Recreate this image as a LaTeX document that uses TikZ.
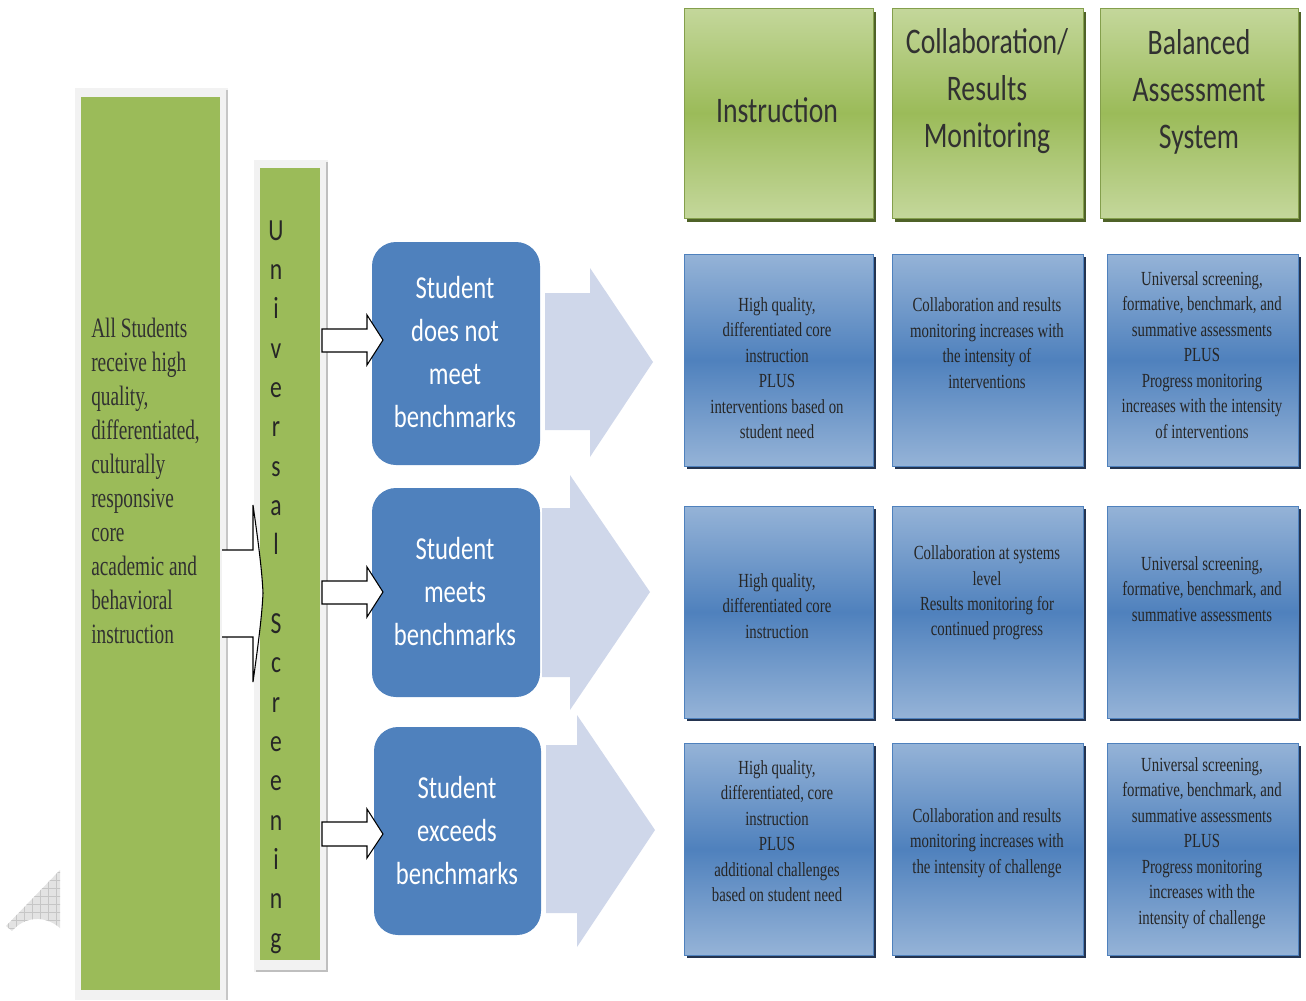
\documentclass[tikz,border=0pt]{standalone}
\usepackage{fontspec}
\usepackage{xcolor}
\usepackage{tikz}
\newfontfamily\calfont[FakeStretch=0.77]{Carlito}
\newfontfamily\sidefont[FakeStretch=0.69]{Liberation Serif}
\newfontfamily\cellfont[FakeStretch=0.74]{Liberation Serif}
\definecolor{leafgreen}{RGB}{155,187,89}
\definecolor{palegreen}{RGB}{196,215,155}
\definecolor{olivedark}{RGB}{79,98,40}
\definecolor{tierblue}{RGB}{79,129,189}
\definecolor{paleblue}{RGB}{149,179,215}
\definecolor{navydark}{RGB}{36,52,80}
\definecolor{haze}{RGB}{207,215,234}
\definecolor{framegray}{RGB}{242,242,242}
\definecolor{inkgray}{RGB}{38,38,38}
\pgfdeclarelayer{background}
\pgfsetlayers{background,main}

\begin{document}
\begin{tikzpicture}[x=0.75pt,y=0.75pt,yscale=-1,xscale=1,
	headbox/.style={draw=leafgreen!85!black,line width=0.6pt,top color=palegreen,bottom color=palegreen,middle color=leafgreen,minimum height=157.5pt,inner sep=0pt},
	cellbox/.style={draw=tierblue,line width=0.6pt,top color=paleblue,bottom color=paleblue,middle color=tierblue,minimum height=159pt,inner sep=0pt},
	tierbox/.style={fill=tierblue,rounded corners=18pt,inner sep=0pt},
	headtext/.style={align=center,inner sep=0pt,text=inkgray!95,font=\calfont\fontsize{27}{35.25}\selectfont},
	tiertext/.style={align=center,inner sep=0pt,text=white,font=\calfont\fontsize{24}{32.25}\selectfont},
	celltext/.style={align=center,inner sep=0pt,text=inkgray,font=\cellfont\fontsize{15}{19.1}\selectfont},
	hazearrow/.style={fill=haze,draw=none},
	whitearrow/.style={fill=white,draw=black,line width=0.8pt,line join=miter}]
	\useasboundingbox (0,0) rectangle (1306,1000);

	%Shape: grey corner mark
	\begin{scope}
	\clip (60,870) -- (6,926) -- (12,931) .. controls (25,916) and (45,915) .. (60,928) -- cycle ;
	\fill[gray!22] (0,860) rectangle (62,935) ;
	\draw[gray!45,line width=0.4pt] (0,860) grid[step=8] (62,935) ;
	\end{scope}

	%Shape: left frame and green column
	\fill[framegray] (75,88) rectangle (228,1000) ;
	\draw[gray!45,line width=1.2pt] (227,90) -- (227,1000) ;
	\node (allbox) [fill=leafgreen,inner sep=0pt,minimum width=104.25pt,minimum height=669.75pt] at (150.5,543.5) {};
	% Text Node
	\node (alltext) [anchor=west,align=left,inner sep=0pt,text=inkgray!95,font=\sidefont\fontsize{21}{25.5}\selectfont] at (91,481) {All Students\\receive high\\quality,\\differentiated,\\culturally\\responsive\\core\\academic and\\behavioral\\instruction};

	%Shape: screening frame and green column
	\fill[framegray] (254,160) rectangle (328,972) ;
	\draw[gray!50,line width=1.2pt] (327,162) -- (327,971) -- (256,971) ;
	\node (scrbox) [fill=leafgreen,inner sep=0pt,minimum width=45pt,minimum height=594pt] at (290,564) {};
	% Text Node
	\node (scrtext) [align=center,inner sep=0pt,text=inkgray,font=\calfont\fontsize{23}{29.5}\selectfont] at (276,587) {U\\n\\i\\v\\e\\r\\s\\a\\l\\\mbox{}\\S\\c\\r\\e\\e\\n\\i\\n\\g};

	%Shape: big white arrow into screening
	\draw[whitearrow] (222,550) -- (253,550) -- (253,505) .. controls (258,540) and (262,570) .. (263,593) .. controls (262,616) and (258,646) .. (253,682) -- (253,637) -- (222,637) ;

	%Shape: pale chevrons
	\fill[hazearrow] (545,293) -- (590,293) -- (590,268) -- (653,362) -- (590,457) -- (590,430) -- (545,430) -- cycle ;
	\fill[hazearrow] (542,508) -- (570,508) -- (570,475) -- (650,592) -- (570,710) -- (570,677) -- (542,677) -- cycle ;
	\fill[hazearrow] (546,745) -- (577,745) -- (577,715) -- (655,830) -- (577,947) -- (577,913) -- (546,913) -- cycle ;

	%Shape: rounded student boxes
	\node (notmeet) [tierbox,minimum width=126pt,minimum height=167.25pt] at (456,353.5) {};
	\node (meets) [tierbox,minimum width=126pt,minimum height=156.75pt] at (456,592.5) {};
	\node (exceeds) [tierbox,minimum width=125.25pt,minimum height=156pt] at (457.5,831) {};
	% Text Node
	\node (notmeettext) [tiertext] at (455,352) {Student\\does not\\meet\\benchmarks};
	\node (meetstext) [tiertext] at (455,591) {Student\\meets\\benchmarks};
	\node (exceedstext) [tiertext] at (457,830) {Student\\exceeds\\benchmarks};

	%Shape: small white arrows
	\draw[whitearrow] (322,329) -- (367,329) -- (367,315) -- (383,340) -- (367,365) -- (367,352) -- (322,352) -- cycle ;
	\draw[whitearrow] (322,581) -- (367,581) -- (367,567) -- (383,592) -- (367,617) -- (367,604) -- (322,604) -- cycle ;
	\draw[whitearrow] (322,822) -- (367,822) -- (367,809) -- (383,834) -- (367,858) -- (367,846) -- (322,846) -- cycle ;

	%Shape: header boxes
	\node (ins) [headbox,minimum width=141.75pt] at (778.5,113) {};
	\node (col) [headbox,minimum width=143.25pt] at (987.5,113) {};
	\node (bal) [headbox,minimum width=148.5pt] at (1199,113) {};
	% Text Node
	\node (instext) [headtext] at (777,110) {Instruction};
	\node (coltext) [headtext] at (987,91.5) {Collaboration/\\Results\\Monitoring};
	\node (baltext) [headtext] at (1199,91.5) {Balanced\\Assessment\\System};

	%Shape: blue cells
	\node (ins1) [cellbox,minimum width=141.75pt] at (778.5,360) {};
	\node (col1) [cellbox,minimum width=143.25pt] at (987.5,360) {};
	\node (bal1) [cellbox,minimum width=143.25pt] at (1202.5,360) {};
	\node (ins2) [cellbox,minimum width=141.75pt] at (778.5,612) {};
	\node (col2) [cellbox,minimum width=143.25pt] at (987.5,612) {};
	\node (bal2) [cellbox,minimum width=143.25pt] at (1202.5,612) {};
	\node (ins3) [cellbox,minimum width=141.75pt] at (778.5,849) {};
	\node (col3) [cellbox,minimum width=143.25pt] at (987.5,849) {};
	\node (bal3) [cellbox,minimum width=143.25pt] at (1202.5,849) {};

	% Text Node
	\node (ins1text) [celltext] at (777,368) {High quality,\\differentiated core\\instruction\\PLUS\\interventions based on\\student need};
	\node (col1text) [celltext] at (987,343) {Collaboration and results\\monitoring increases with\\the intensity of\\interventions};
	\node (bal1text) [celltext] at (1202,355) {Universal screening,\\formative, benchmark, and\\summative assessments\\PLUS\\Progress monitoring\\increases with the intensity\\of interventions};
	\node (ins2text) [celltext] at (777,606) {High quality,\\differentiated core\\instruction};
	\node (col2text) [celltext] at (987,593) {Collaboration at systems\\level\\Results monitoring for\\continued progress};
	\node (bal2text) [celltext] at (1202,589) {Universal screening,\\formative, benchmark, and\\summative assessments};
	\node (ins3text) [celltext] at (777,831) {High quality,\\differentiated, core\\instruction\\PLUS\\additional challenges\\based on student need};
	\node (col3text) [celltext] at (987,843) {Collaboration and results\\monitoring increases with\\the intensity of challenge};
	\node (bal3text) [celltext] at (1202,843) {Universal screening,\\formative, benchmark, and\\summative assessments\\PLUS\\Progress monitoring\\increases with the\\intensity of challenge};

	%Shadows behind the boxes
	\begin{pgfonlayer}{background}
	\fill[olivedark] ([shift={(3,4)}]ins.north west) rectangle ([shift={(3,4)}]ins.south east) ;
	\fill[olivedark] ([shift={(3,4)}]col.north west) rectangle ([shift={(3,4)}]col.south east) ;
	\fill[olivedark] ([shift={(3,4)}]bal.north west) rectangle ([shift={(3,4)}]bal.south east) ;
	\fill[navydark] ([shift={(3,3)}]ins1.north west) rectangle ([shift={(3,3)}]ins1.south east) ;
	\fill[navydark] ([shift={(3,3)}]col1.north west) rectangle ([shift={(3,3)}]col1.south east) ;
	\fill[navydark] ([shift={(3,3)}]bal1.north west) rectangle ([shift={(3,3)}]bal1.south east) ;
	\fill[navydark] ([shift={(3,3)}]ins2.north west) rectangle ([shift={(3,3)}]ins2.south east) ;
	\fill[navydark] ([shift={(3,3)}]col2.north west) rectangle ([shift={(3,3)}]col2.south east) ;
	\fill[navydark] ([shift={(3,3)}]bal2.north west) rectangle ([shift={(3,3)}]bal2.south east) ;
	\fill[navydark] ([shift={(3,3)}]ins3.north west) rectangle ([shift={(3,3)}]ins3.south east) ;
	\fill[navydark] ([shift={(3,3)}]col3.north west) rectangle ([shift={(3,3)}]col3.south east) ;
	\fill[navydark] ([shift={(3,3)}]bal3.north west) rectangle ([shift={(3,3)}]bal3.south east) ;
	\end{pgfonlayer}

\end{tikzpicture}
\end{document}
